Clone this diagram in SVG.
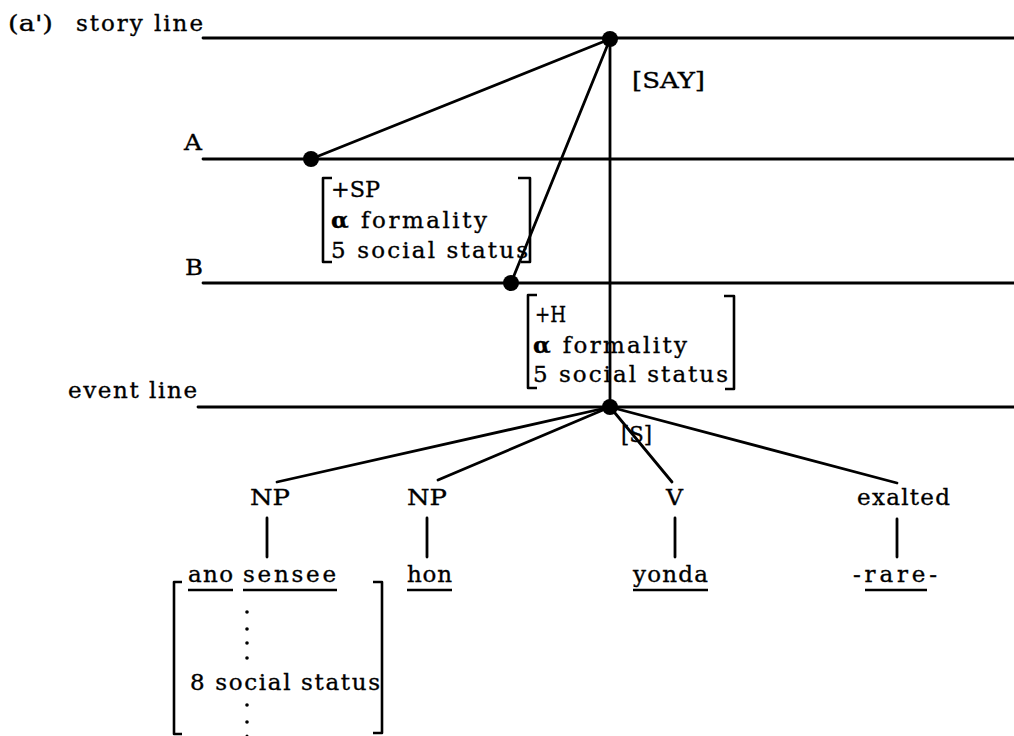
<svg xmlns="http://www.w3.org/2000/svg" width="1014" height="736" viewBox="0 0 1014 736">
  <style>
    .t { font-family: "DejaVu Serif", "Liberation Serif", serif; font-size: 23px; fill: #000; stroke: #000; stroke-width: 0.35; }
    .ln { stroke: #000; stroke-width: 2.8; fill: none; stroke-linecap: round; }
    .br { stroke: #000; stroke-width: 2.6; fill: none; stroke-linejoin: round; }
    .ul { stroke: #000; stroke-width: 2.4; }
    .dot { fill: #000; }
  </style>
  <rect width="1014" height="736" fill="#fff"/>

  <!-- horizontal level lines -->
  <g id="levels">
    <line class="ln" x1="203" y1="38" x2="1014" y2="38"/>
    <line class="ln" x1="203" y1="159" x2="1014" y2="159"/>
    <line class="ln" x1="203" y1="283" x2="1014" y2="283"/>
    <line class="ln" x1="198" y1="407" x2="1014" y2="407"/>
    <text class="t" x="8" y="31" textLength="45" lengthAdjust="spacingAndGlyphs">(a')</text>
    <text class="t" x="76" y="31" textLength="127" lengthAdjust="spacing">story line</text>
    <text class="t" x="184" y="150" textLength="18" lengthAdjust="spacingAndGlyphs">A</text>
    <text class="t" x="185" y="275" textLength="18" lengthAdjust="spacingAndGlyphs">B</text>
    <text class="t" x="68" y="398" textLength="129" lengthAdjust="spacing">event line</text>
  </g>

  <!-- connectors -->
  <g id="connectors">
    <line class="ln" x1="610" y1="39" x2="610" y2="407"/>
    <line class="ln" x1="610" y1="39" x2="311" y2="159"/>
    <line class="ln" x1="610" y1="39" x2="511" y2="283"/>
    <line class="ln" x1="610" y1="407" x2="277" y2="482"/>
    <line class="ln" x1="610" y1="407" x2="438" y2="480"/>
    <line class="ln" x1="610" y1="407" x2="672" y2="482"/>
    <line class="ln" x1="610" y1="407" x2="897" y2="483"/>
    <line class="ln" x1="267" y1="518" x2="267" y2="557"/>
    <line class="ln" x1="427" y1="518" x2="427" y2="557"/>
    <line class="ln" x1="675" y1="518" x2="675" y2="557"/>
    <line class="ln" x1="897" y1="519" x2="897" y2="557"/>
  </g>

  <!-- story event node -->
  <g id="node-say">
    <circle class="dot" cx="610" cy="39" r="8"/>
    <text class="t" x="632" y="88" textLength="73" lengthAdjust="spacingAndGlyphs">[SAY]</text>
  </g>

  <!-- speaker A -->
  <g id="node-a">
    <circle class="dot" cx="311" cy="159" r="8"/>
    <path class="br" d="M332,178 L323,178 L323,262 L332,262"/>
    <path class="br" d="M518,178 L530,178 L530,262 L521,262"/>
    <text class="t" x="331" y="197" textLength="49" lengthAdjust="spacingAndGlyphs">+SP</text>
    <text class="t" x="331" y="228" textLength="156" lengthAdjust="spacing"><tspan font-weight="bold">α</tspan> formality</text>
    <text class="t" x="331" y="258" textLength="197" lengthAdjust="spacing">5 social status</text>
  </g>

  <!-- hearer B -->
  <g id="node-b">
    <circle class="dot" cx="511" cy="283" r="8"/>
    <path class="br" d="M537,295 L528,295 L528,388 L537,388"/>
    <path class="br" d="M724,296 L734,296 L734,389 L725,389"/>
    <text class="t" x="535" y="322" textLength="31" lengthAdjust="spacingAndGlyphs">+H</text>
    <text class="t" x="533" y="353" textLength="154" lengthAdjust="spacing"><tspan font-weight="bold">α</tspan> formality</text>
    <text class="t" x="533" y="382" textLength="195" lengthAdjust="spacing">5 social status</text>
  </g>

  <!-- sentence node -->
  <g id="node-s">
    <circle class="dot" cx="610" cy="407" r="8"/>
    <text class="t" x="621" y="442" textLength="31" lengthAdjust="spacingAndGlyphs">[S]</text>
  </g>

  <!-- subject NP -->
  <g id="node-np1">
    <text class="t" x="250" y="505" textLength="40" lengthAdjust="spacingAndGlyphs">NP</text>
    <text class="t" x="188" y="582" textLength="45" lengthAdjust="spacing">ano</text>
    <text class="t" x="243" y="582" textLength="93" lengthAdjust="spacing">sensee</text>
    <line class="ul" x1="188" y1="590" x2="233" y2="590" stroke-width="1.6"/>
    <line class="ul" x1="243" y1="590" x2="337" y2="590"/>
    <path class="br" d="M182,582 L174,582 L174,734 L182,734"/>
    <path class="br" d="M373,582 L382,582 L382,733 L373,733"/>
    <circle class="dot" cx="247" cy="612" r="1.8"/>
    <circle class="dot" cx="247" cy="629" r="1.8"/>
    <circle class="dot" cx="247" cy="643" r="1.8"/>
    <circle class="dot" cx="247" cy="658" r="1.8"/>
    <text class="t" x="190" y="690" textLength="190" lengthAdjust="spacing">8 social status</text>
    <circle class="dot" cx="247" cy="705" r="1.8"/>
    <circle class="dot" cx="247" cy="722" r="1.8"/>
    <circle class="dot" cx="247" cy="736" r="1.5"/>
  </g>

  <!-- object NP -->
  <g id="node-np2">
    <text class="t" x="407" y="505" textLength="40" lengthAdjust="spacingAndGlyphs">NP</text>
    <text class="t" x="407" y="582" textLength="45" lengthAdjust="spacing">hon</text>
    <line class="ul" x1="407" y1="590" x2="452" y2="590"/>
  </g>

  <!-- verb -->
  <g id="node-v">
    <text class="t" x="666" y="505" textLength="17" lengthAdjust="spacingAndGlyphs">V</text>
    <text class="t" x="633" y="582" textLength="75" lengthAdjust="spacing">yonda</text>
    <line class="ul" x1="633" y1="590" x2="708" y2="590"/>
  </g>

  <!-- exalted suffix -->
  <g id="node-exalted">
    <text class="t" x="857" y="505" textLength="93" lengthAdjust="spacing">exalted</text>
    <text class="t" x="853" y="582" textLength="84" lengthAdjust="spacing">-rare-</text>
    <line class="ul" x1="865" y1="590" x2="927" y2="590"/>
  </g>
</svg>
